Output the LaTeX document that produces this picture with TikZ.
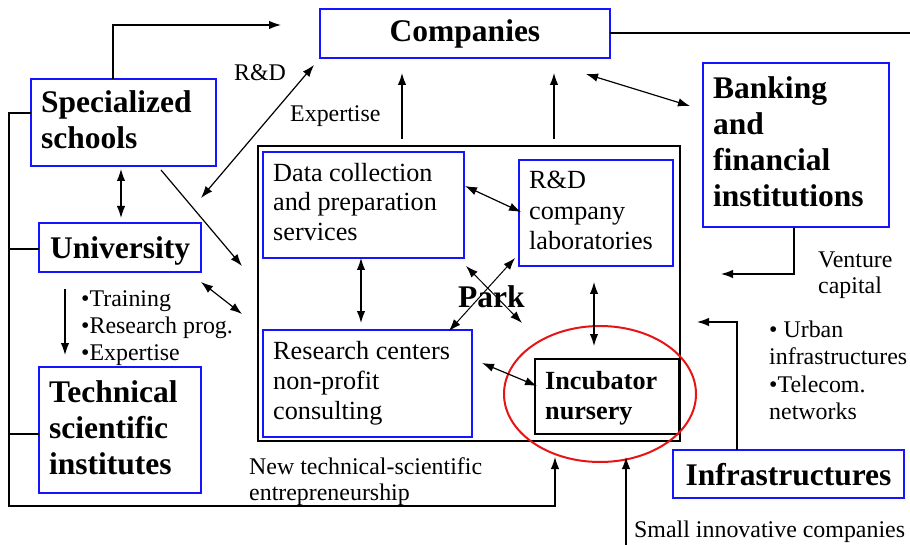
\documentclass[tikz,border=0pt]{standalone}
\usepackage{fontspec}
\setmainfont{Liberation Serif}
\usetikzlibrary{arrows.meta}
\definecolor{boxblue}{RGB}{20,20,255}
\definecolor{ellred}{RGB}{230,20,20}
\tikzset{
  bluebox/.style={draw=boxblue,line width=1.3pt},
  blackbox/.style={draw=black,line width=1.3pt},
  conn/.style={line width=1.2pt,draw=black},
  tip/.style={-{Latex[length=12pt,width=8.5pt]}},
  dtip/.style={{Latex[length=12pt,width=8.5pt]}-{Latex[length=12pt,width=8.5pt]}},
  big/.style={font=\fontsize{31.5}{36}\selectfont\bfseries,anchor=base west,inner sep=0pt},
  mid/.style={font=\fontsize{26.2}{30}\selectfont,anchor=base west,inner sep=0pt},
  midb/.style={font=\fontsize{26.2}{30}\selectfont\bfseries,anchor=base west,inner sep=0pt},
  lab/.style={font=\fontsize{23.9}{27}\selectfont,anchor=base west,inner sep=0pt},
}
\begin{document}
\begin{tikzpicture}[x=1pt,y=-1pt]
\useasboundingbox (0,0) rectangle (910,545);
% boxes
\path[bluebox] (320,9) rectangle (610,58);
\node[big,anchor=center] (companiesT) at (465,34) {Companies};
\path[bluebox] (31,79) rectangle (216,166);
\node[big] (spec1) at (41,113) {Specialized};
\node[big] (spec2) at (41,149) {schools};
\path[bluebox] (39,223) rectangle (201,272);
\node[big] (univ) at (50,259) {University};
\path[bluebox] (39,367) rectangle (201,493);
\node[big] (tech1) at (49,402) {Technical};
\node[big] (tech2) at (49,438) {scientific};
\node[big] (tech3) at (49,474) {institutes};
\path[bluebox] (703,63) rectangle (889,227);
\node[big] (bank1) at (713,99) {Banking};
\node[big] (bank2) at (713,135) {and};
\node[big] (bank3) at (713,171) {financial};
\node[big] (bank4) at (713,207) {institutions};
\path[bluebox] (673,450) rectangle (904,498);
\node[big,anchor=center] (infra) at (788.5,475) {Infrastructures};
% park
\path[blackbox,line width=1.1pt] (258,146) rectangle (680,441);
\path[bluebox] (263,152) rectangle (464,258);
\node[mid] (data1) at (273,182) {Data collection};
\node[mid] (data2) at (273,211) {and preparation};
\node[mid] (data3) at (273,241) {services};
\path[bluebox] (519,160) rectangle (673,266);
\node[mid] (rd1) at (529,189) {R\&D};
\node[mid] (rd2) at (529,220) {company};
\node[mid] (rd3) at (529,250) {laboratories};
\path[bluebox] (263,330) rectangle (472,437);
\node[mid] (res1) at (273,359) {Research centers};
\node[mid] (res2) at (273,389) {non-profit};
\node[mid] (res3) at (273,419) {consulting};
\path[blackbox,line width=1.1pt] (535,359) rectangle (679,434);
\node[midb] (inc1) at (545,389) {Incubator};
\node[midb] (inc2) at (545,419) {nursery};
\node[big] (park) at (458,307) {Park};
\draw[ellred,line width=2pt] (600,394) ellipse [x radius=96, y radius=68];
% labels
\node[lab] (lrd) at (234,81) {R\&D};
\node[lab] (lexp) at (290,122) {Expertise};
\node[lab] (lt1) at (81,306) {•Training};
\node[lab] (lt2) at (81,333) {•Research prog.};
\node[lab] (lt3) at (81,360) {•Expertise};
\node[lab] (lnew1) at (249,474) {New technical-scientific};
\node[lab] (lnew2) at (249,500) {entrepreneurship};
\node[lab] (lv1) at (818,268) {Venture};
\node[lab] (lv2) at (818,294) {capital};
\node[lab] (lu1) at (769,337) {• Urban};
\node[lab] (lu2) at (769,364) {infrastructures};
\node[lab] (lu3) at (769,392) {•Telecom.};
\node[lab] (lu4) at (769,419) {networks};
\node[lab] (lsmall) at (634,537) {Small innovative companies};
% connectors
\coordinate (a1) at (113,79); \coordinate (a1t) at (281,25);
\draw[conn,tip] (a1) |- (a1t);
\coordinate (c1) at (610,33); \coordinate (c2) at (910,33);
\draw[conn] (c1) -- (c2);
\coordinate (bus0) at (31,113); \coordinate (bus1) at (9,113);
\coordinate (busB) at (9,506); \coordinate (busE) at (555,506); \coordinate (busT) at (555,457);
\draw[conn,tip] (bus0) -- (bus1) -- (busB) -- (busE) -- (busT);
\coordinate (u0) at (39,249); \coordinate (u1) at (9,249);
\draw[conn] (u0) -- (u1);
\coordinate (t0) at (39,434); \coordinate (t1) at (9,434);
\draw[conn] (t0) -- (t1);
\coordinate (su1) at (121,169); \coordinate (su2) at (121,218);
\draw[conn,dtip] (su1) -- (su2);
\coordinate (ut1) at (65,289); \coordinate (ut2) at (65,355);
\draw[conn,tip] (ut1) -- (ut2);
\coordinate (r1) at (201,198); \coordinate (r2) at (314,65);
\draw[conn,dtip] (r1) -- (r2);
\coordinate (sp1) at (161,170); \coordinate (sp2) at (242,266);
\draw[conn,tip] (sp1) -- (sp2);
\coordinate (up1) at (201,282); \coordinate (up2) at (242,314);
\draw[conn,dtip] (up1) -- (up2);
\coordinate (pc1) at (402,139); \coordinate (pc2) at (402,73);
\draw[conn,tip] (pc1) -- (pc2);
\coordinate (pc3) at (554,139); \coordinate (pc4) at (554,73);
\draw[conn,tip] (pc3) -- (pc4);
\coordinate (cb1) at (586,74); \coordinate (cb2) at (690,106);
\draw[conn,dtip] (cb1) -- (cb2);
\coordinate (bk1) at (794,228); \coordinate (bk2) at (721,274);
\draw[conn,tip] (bk1) |- (bk2);
\coordinate (in1) at (737,450); \coordinate (in2) at (697,322);
\draw[conn,tip] (in1) |- (in2);
\coordinate (sm1) at (626,545); \coordinate (sm2) at (626,457);
\draw[conn,tip] (sm1) -- (sm2);
\coordinate (dr1) at (361,258); \coordinate (dr2) at (361,323);
\draw[conn,dtip] (dr1) -- (dr2);
\coordinate (dl1) at (465,186); \coordinate (dl2) at (521,212);
\draw[conn,dtip] (dl1) -- (dl2);
\coordinate (x1) at (449,331); \coordinate (x2) at (515,258);
\draw[conn,dtip,line width=1pt] (x1) -- (x2);
\coordinate (x3) at (466,266); \coordinate (x4) at (522,323);
\draw[conn,dtip,line width=1pt] (x3) -- (x4);
\coordinate (ri1) at (594,282); \coordinate (ri2) at (594,346);
\draw[conn,dtip] (ri1) -- (ri2);
\coordinate (rc1) at (482,363); \coordinate (rc2) at (537,386);
\draw[conn,dtip] (rc1) -- (rc2);
\end{tikzpicture}
\end{document}
